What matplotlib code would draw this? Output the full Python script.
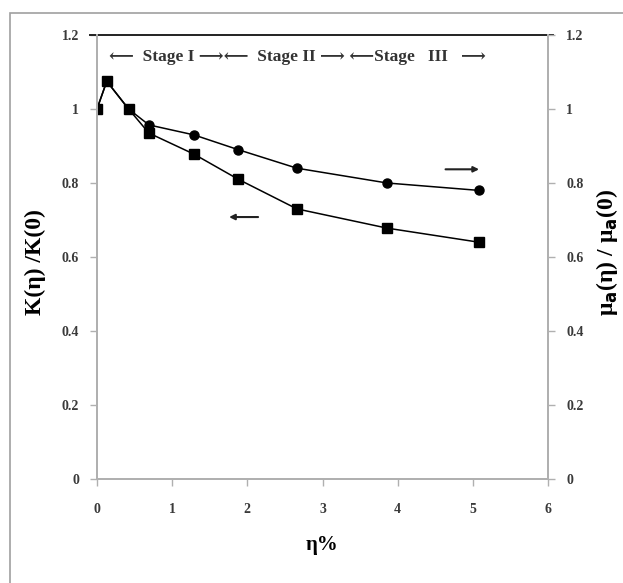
import matplotlib.pyplot as plt
from matplotlib.patches import Rectangle
from matplotlib.lines import Line2D

plt.rcParams['font.family'] = ['Liberation Serif', 'DejaVu Serif']

# data
eta = [0, 0.13, 0.42, 0.69, 1.29, 1.88, 2.66, 3.86, 5.08]
k_ratio = [1.0, 1.075, 1.0, 0.935, 0.878, 0.81, 0.73, 0.678, 0.64]
mu_ratio = [1.0, 1.075, 1.0, 0.957, 0.93, 0.89, 0.84, 0.80, 0.78]

yticks = [0, 0.2, 0.4, 0.6, 0.8, 1.0, 1.2]
ytick_labels = ['0', '0.2', '0.4', '0.6', '0.8', '1', '1.2']
xticks = [0, 1, 2, 3, 4, 5, 6]

fig = plt.figure(figsize=(6.23, 5.83), dpi=100)

# outer frame of the picture
fig.patches.append(Rectangle((10/623, -0.05), 1.2, 1.05 - 13/583,
                             transform=fig.transFigure, fill=False,
                             edgecolor='#a0a0a0', lw=1.2))

ax = fig.add_axes([97/623, 1 - 479/583, (548 - 97)/623, (479 - 35)/583])
ax2 = ax.twinx()

grey = '#b0b0b0'
lab_col = '#3a3a3a'
for a in (ax, ax2):
    a.set_xlim(0, 6)
    a.set_ylim(0, 1.2)
    for s in ('left', 'right', 'bottom'):
        a.spines[s].set_color(grey)
        a.spines[s].set_linewidth(1.3)
    a.spines['top'].set_visible(False)
    a.tick_params(length=5, width=1, color=grey, labelsize=10,
                  labelcolor=lab_col, pad=8)
    a.set_yticks(yticks)
    a.set_yticklabels(ytick_labels, fontweight='bold')

ax.set_xticks(xticks)
ax.set_xticklabels([str(v) for v in xticks], fontweight='bold')
ax.tick_params(axis='x', pad=12)

# dark top line slightly past the spines
ax.add_line(Line2D([-0.015, 1.01], [1, 1], transform=ax.transAxes,
                   color='#222222', lw=1.4, clip_on=False))

ax.plot(eta, mu_ratio, color='black', lw=1.1, marker='o', ms=6.5)
ax.plot(eta, k_ratio, color='black', lw=1.1, marker='s', ms=7)

ax.text(0.16, 1.14, '\u27f5  Stage I \u27f6\u27f5  Stage II \u27f6 \u27f5Stage   III   \u27f6',
        fontsize=12.5, fontweight='bold', color='#333333', va='center', ha='left')

ax.annotate('', xy=(5.12, 0.837), xytext=(4.6, 0.837),
            arrowprops=dict(arrowstyle='-|>', color='#222222', lw=1.5,
                            mutation_scale=8))
ax.annotate('', xy=(1.72, 0.708), xytext=(2.18, 0.708),
            arrowprops=dict(arrowstyle='-|>', color='#222222', lw=1.5,
                            mutation_scale=8))

ax.set_xlabel('\u03b7%', fontsize=15, fontweight='bold', labelpad=14)
fig.text(35/623, 1 - 262/583, 'K(\u03b7) /K(0)', rotation=90, fontsize=17,
         fontweight='bold', ha='center', va='center')
fig.text(607/623, 1 - 252/583, '\u03bc$_\\mathbf{a}$(\u03b7) / \u03bc$_\\mathbf{a}$(0)',
         rotation=90, fontsize=17, fontweight='bold', ha='center', va='center')

fig.savefig('out.png', dpi=100)
